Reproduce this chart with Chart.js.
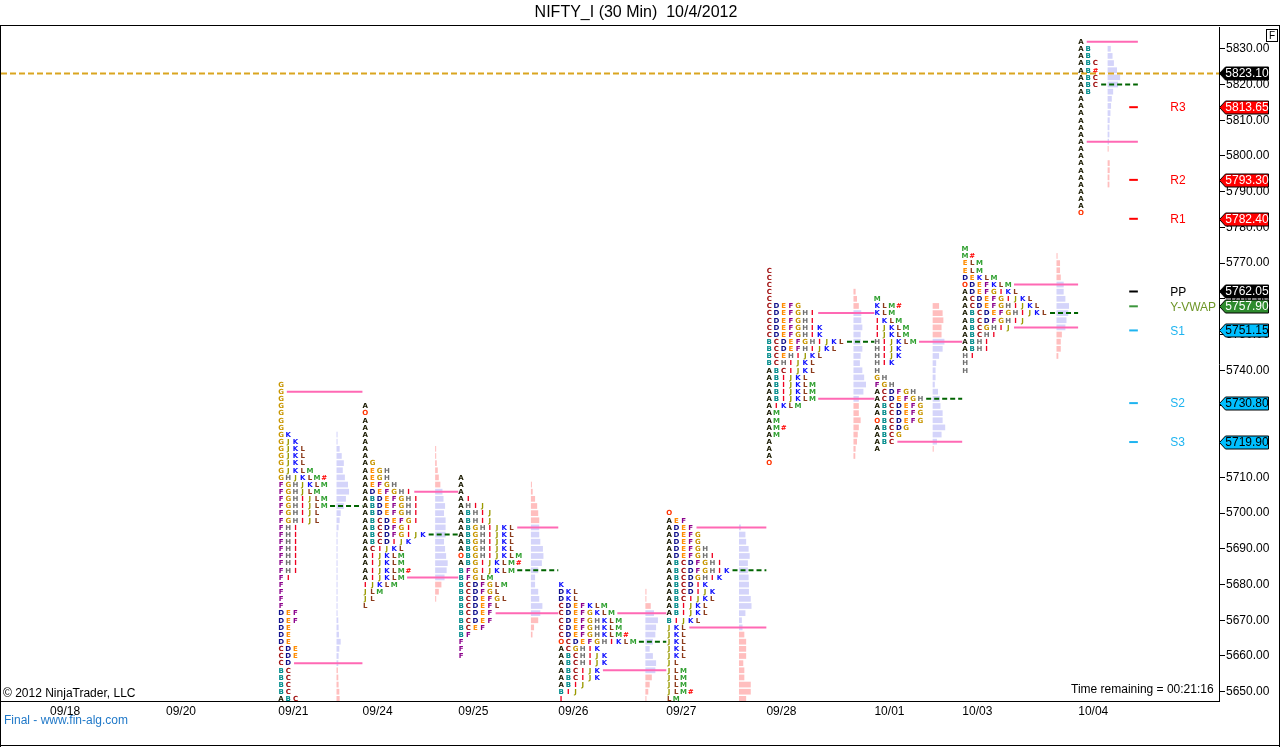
<!DOCTYPE html>
<html><head><meta charset="utf-8">
<script src="https://cdn.jsdelivr.net/npm/chart.js@4.4.0/dist/chart.umd.min.js"></script>
<style>html,body{margin:0;padding:0;background:#fff;}canvas{display:block;}</style>
</head><body>
<canvas id="c" width="1280" height="747"></canvas>
<script>
// ---------- DATA ----------
const rowStep = 2;
const sessionDates = ['09/18','09/20','09/21','09/24','09/25','09/26','09/27','09/28','10/01','10/03','10/04'];
const sessionSlot  = [7.2, 23.3, 38.9, 50.6, 63.9, 77.8, 92.8, 106.7, 121.7, 133.9, 150.0];
const sessionTop   = [null, null, 5736, 5730, 5710, 5680, 5700, 5768, 5760, 5774, 5832];
const vaHigh   = [null, null, 5734, 5706, 5696, 5672, 5696, 5756, 5748, 5764, 5832];
const vaLow    = [null, null, 5658, 5682, 5672, 5656, 5668, 5732, 5720, 5752, 5804];
const pocPrice = [null, null, 5702, 5694, 5684, 5664, 5684, 5748, 5732, 5756, 5820];

const tpo0921 = ["G","G","G","G","G","G","G","GK","GJK","GJKL","GJKL","GJKL","GJKLM","GHJKLM#","FGHJKLM","FGHJLM","FGHIJLM","FGHIJLM","FGHIJL","FGHIJL","FHI","FHI","FHI","FHI","FHI","FHI","FHI","FI","F","F","F","F","DEF","DEF","DE","DE","DE","CDE","CDE","CD","BC","BC","BC","BC","ABC"];
const tpo0924 = ["A","O","A","A","A","A","A","A","AG","AEGH","AEGH","AEFGH","ADEFGHI","ABDEFGHI","ABDEFGHI","ABDEFGHI","ABCDEFGI","ABCDFGI","ABCDFGIJK","ABCDIJK","ACIJKL","AIJKLM","AIJKLM","AIJKLM#","AIJKLM","IJKLM","JLM","JL","L"];
const tpo0925 = ["A","A","A","AI","AHIJ","ABHIJ","ABHIJ","ABGHIJKL","ABGHIJKL","ABGHIJKL","ABGHIJKL","OBGHIJKLM","ABGIJKLM#","BFGIJKLM","BFGLM","BCDFGLM","BCDFGL","BCDEFGL","BCDEFL","BCDEF","BCDEF","BCEF","BF","F","F","F"];
const tpo0926 = ["K","DKL","DKL","CDEFKLM","CDEFGKLM","CDEFGHKLM","CDEFGHKLM","CDEFGHKLM#","OCDEFGHIKLM","ACGHIK","ABCHIJK","ABCHIJK","ABCIJK","ABCIJK","ABIJ","BIJ","I"];
const tpo0927 = ["O","AEF","ADEF","ADEFG","ADEFG","ADEFGH","ADEFGHI","ABCDFGHI","ABCDFGHIK","ABCDGHIK","ABCDIK","ABCDIJK","ABCIJKL","ABIJKL","ABIJKL","BIJKL","JKL","JKL","JKL","JKL","JKL","JL","JLM","JLM","JLM","JLM#","LM"];
const tpo0928 = ["C","C","C","C","C","CDEFG","CDEFGHI","CDEFGHI","CDEFGHIK","CDEFGHIK","BCDEFGHIJKL","BCDEFHIJKL","BCEHIJKL","BCHIJKL","ABCIJKL","ABIJKL","ABIJKLM","ABIJKLM","ABIJKLM","AIKLM","AM","AM","AM#","AM","A","A","A","O"];
const tpo1001 = ["M","KLM#","KLM","IKLM","IJKLM","IJKLM","HIJKLM","HIJK","HIJK","HIK","H","GH","FGH","ACDFGH","ACDEFGH","ABCDEFG","ABCDEFG","OBCDEFG","ABCDG","ABCG","ABC","A"];
const tpo1003 = ["M","M#","ELM","ELM","DEKLM","ODEFKLM","ADEFGIKL","ACDEFGIJKL","ACDEFGHIJKL","ABCDEFGHIJKL","ABCDFGHIJ","ABCGHIJ","ABCHI","ABHI","ABHI","HI","H","H"];
const tpo1004 = ["A","AB","AB","ABC","AB#","ABC","ABC","AB","A","A","A","A","A","A","A","A","A","A","A","A","A","A","A","A","O"];

const hist0921 = [0,0,0,0,0,0,0,1,1,3,5,7,6,8,11,12,9,7,4,3,2,1,1,1,1,1,1,1,1,1,1,1,1,1.7,2,2.3,4,2.7,2,1.7,1.3,1.7,2,2.7,3];
const hist0924 = [0,0,0,0,0,0,0.7,1,1.5,2.5,3.5,5,7,8,9.5,8.5,10,10,10,8.5,9.5,10.5,12,11,9,6,3.5,1,0];
const hist0925 = [0,0.7,1.7,4,6,7,8,8,8,9,11.5,12,10.5,7,4,4,7,8,11,9,7,3,1.5,0,0,0];
const hist0926 = [0,1,0.5,5,8,11.7,10,9.3,7,4,7,10,9.3,6,4,2.7,1];
const hist0927 = [0,0,1.7,6,6.7,9,10,8.3,8.3,9,9.3,9.3,11,11.7,6,2.7,3.3,5,6.7,6.7,6.7,4,5,5,11,11,6.7];
const hist0928 = [0,0,0,2,3.3,5,7.3,7.3,8.3,6.7,6.7,8.3,6.7,6,8.3,10,11.7,9.3,5,5,5,6.7,5,4,3.3,2,1.7,0];
const hist1001 = [0,6,9.3,10,8.3,8.3,11,9.3,6,3.3,2.7,2.7,2,5,6.7,7.3,9.3,9.3,11.7,8.3,4,1];
const hist1003 = [0,1,3.3,3.3,4,6.7,6.7,8.3,11.7,11,9.3,8.3,5,4,4,1.7,0,0];
const hist1004 = [0,3,4.7,6,9,12,10,5.3,4,3.3,2.7,2,1.7,1.7,1.3,1,0,2,2,1.7,1.7,0,0,0,0];

const tpoLists  = [[], [], tpo0921, tpo0924, tpo0925, tpo0926, tpo0927, tpo0928, tpo1001, tpo1003, tpo1004];
const histLists = [[], [], hist0921, hist0924, hist0925, hist0926, hist0927, hist0928, hist1001, hist1003, hist1004];

const lastPrice = 5823.10;
const pivotNames  = ['R3','R2','R1','PP','Y-VWAP','S1','S2','S3'];
const pivotValues = [5813.65, 5793.30, 5782.40, 5762.05, 5757.90, 5751.15, 5730.80, 5719.90];
const yTickStep = 10;

// ---------- STYLE ----------
const letterColor = {A:'#1a1a00',O:'#ff3300',B:'#008b8b',C:'#a01010',D:'#10108b',E:'#ff8c00',F:'#8b008b',G:'#c89600',H:'#707070',I:'#ee0020',J:'#9a9a00',K:'#1010ff',L:'#8b3a1a',M:'#30a030','#':'#ff0000'};
const pivotDash  = {R3:'#ff0000',R2:'#ff0000',R1:'#ff0000',PP:'#000000','Y-VWAP':'#3c963c',S1:'#1eb4f0',S2:'#1eb4f0',S3:'#1eb4f0'};
const pivotText  = {R3:'#ff0000',R2:'#ff0000',R1:'#ff0000',PP:'#000000','Y-VWAP':'#6e9628',S1:'#1eb4f0',S2:'#1eb4f0',S3:'#1eb4f0'};
const pivotFlag  = {R3:'#ff0000',R2:'#ff0000',R1:'#ff0000',PP:'#000000','Y-VWAP':'#2e8b2e',S1:'#00bfff',S2:'#00bfff',S3:'#00bfff'};
const flagTextC  = {R3:'#fff',R2:'#fff',R1:'#fff',PP:'#fff','Y-VWAP':'#fff',S1:'#000',S2:'#000',S3:'#000'};
const FONT = '"Liberation Sans", Arial, sans-serif';
const X_MAX = 169.17;

// ---------- DATASETS (lines) ----------
const datasets = [];
sessionDates.forEach((d, i) => {
  const rows = tpoLists[i];
  if (!rows.length) return;
  const end = i + 1 < sessionSlot.length ? sessionSlot[i + 1] - 0.4 : sessionSlot[i] + 7.9;
  const lenAt = p => rows[Math.round((sessionTop[i] - p) / rowStep)].length;
  [vaHigh[i], vaLow[i]].forEach(p => datasets.push({
    data: [{x: sessionSlot[i] + lenAt(p) - 0.2, y: p}, {x: end, y: p}],
    borderColor: '#ff69b4', borderWidth: 2
  }));
  datasets.push({
    data: [{x: sessionSlot[i] + lenAt(pocPrice[i]) - 0.2, y: pocPrice[i]}, {x: end, y: pocPrice[i]}],
    borderColor: '#006400', borderWidth: 2, borderDash: [5, 3]
  });
});
pivotNames.forEach((n, k) => datasets.push({
  data: [{x: 156.7, y: pivotValues[k]}, {x: 157.9, y: pivotValues[k]}],
  borderColor: pivotDash[n], borderWidth: 2
}));
datasets.push({
  data: [{x: 0, y: lastPrice}, {x: X_MAX, y: lastPrice}],
  borderColor: '#daa520', borderWidth: 2, borderDash: [6, 3]
});

// ---------- PLUGIN ----------
const profilePlugin = {
  id: 'profile',
  beforeDatasetsDraw(chart) {
    const {ctx, chartArea: a, scales: {x, y}} = chart;
    ctx.save();
    ctx.beginPath(); ctx.rect(a.left, a.top, a.right - a.left, a.bottom - a.top); ctx.clip();
    const colPx = x.getPixelForValue(1) - x.getPixelForValue(0);
    const rowPx = Math.abs(y.getPixelForValue(5700) - y.getPixelForValue(5700 + rowStep));
    const barH = rowPx * 0.8;
    ctx.font = 'bold 7px "DejaVu Sans", sans-serif';
    ctx.textAlign = 'center'; ctx.textBaseline = 'middle';
    tpoLists.forEach((rows, i) => {
      if (!rows.length) return;
      const maxLen = Math.max(...rows.map(r => r.length));
      const hist = histLists[i];
      const hmax = Math.max(...hist);
      const hx = x.getPixelForValue(sessionSlot[i] + maxLen - 1 + 1.7);
      const maxW = 1.74 * colPx;
      rows.forEach((r, k) => {
        const p = sessionTop[i] - k * rowStep;
        const py = y.getPixelForValue(p);
        const v = hist[k] || 0;
        if (v > 0) {
          ctx.fillStyle = (p <= vaHigh[i] && p >= vaLow[i]) ? '#d4d4fa' : '#ffbebe';
          ctx.fillRect(hx, py - barH / 2, Math.max(1, v / hmax * maxW), barH);
        }
        for (let c = 0; c < r.length; c++) {
          ctx.fillStyle = letterColor[r[c]] || '#000';
          ctx.fillText(r[c], x.getPixelForValue(sessionSlot[i] + c), py + 0.5);
        }
      });
    });
    ctx.restore();
  },
  afterDraw(chart) {
    const {ctx, chartArea: a, scales: {x, y}} = chart;
    ctx.save();
    // pivot labels
    ctx.font = '12px ' + FONT; ctx.textAlign = 'left'; ctx.textBaseline = 'middle';
    pivotNames.forEach((n, k) => {
      ctx.fillStyle = pivotText[n];
      ctx.fillText(n, x.getPixelForValue(162.4), y.getPixelForValue(pivotValues[k]) + 1);
    });
    // flags
    const flag = (val, fill, tc) => {
      const py = Math.round(y.getPixelForValue(val)) + 0.5;
      const x0 = a.right + 0.5, x1 = x0 + 6, x2 = x0 + 49;
      ctx.beginPath();
      ctx.moveTo(x0, py); ctx.lineTo(x1, py - 6.5); ctx.lineTo(x2, py - 6.5);
      ctx.lineTo(x2, py + 6.5); ctx.lineTo(x1, py + 6.5); ctx.closePath();
      ctx.fillStyle = fill; ctx.fill();
      ctx.strokeStyle = '#000'; ctx.lineWidth = 1; ctx.stroke();
      ctx.fillStyle = tc; ctx.textAlign = 'center'; ctx.textBaseline = 'middle';
      ctx.font = '12px ' + FONT;
      ctx.fillText(val.toFixed(2), (x1 + x2) / 2, py + 0.5);
    };
    flag(lastPrice, '#000000', '#fff');
    pivotNames.forEach((n, k) => flag(pivotValues[k], pivotFlag[n], flagTextC[n]));
    // title
    ctx.fillStyle = '#000'; ctx.font = '16px ' + FONT; ctx.textAlign = 'center'; ctx.textBaseline = 'middle';
    ctx.fillText('NIFTY_I (30 Min)  10/4/2012', 636, 13);
    // texts
    ctx.font = '12px ' + FONT; ctx.textAlign = 'left';
    ctx.fillText('\u00a9 2012 NinjaTrader, LLC', 3, 694);
    ctx.fillText('Time remaining = 00:21:16', 1071, 690);
    ctx.fillStyle = '#1f78c8';
    ctx.fillText('Final - www.fin-alg.com', 4, 721);
    // frame
    ctx.strokeStyle = '#000'; ctx.lineWidth = 1;
    ctx.beginPath();
    ctx.moveTo(0, 25.5); ctx.lineTo(1280, 25.5);
    ctx.moveTo(0.5, 25); ctx.lineTo(0.5, 747);
    ctx.moveTo(1279.5, 25); ctx.lineTo(1279.5, 747);
    ctx.moveTo(0, 745.5); ctx.lineTo(1280, 745.5);
    ctx.moveTo(0, a.bottom + 0.5); ctx.lineTo(a.right + 1, a.bottom + 0.5);
    ctx.stroke();
    // F box
    ctx.fillStyle = '#fff'; ctx.fillRect(1266.5, 29.5, 11, 12);
    ctx.strokeRect(1266.5, 29.5, 11, 12);
    ctx.fillStyle = '#000'; ctx.font = '10px ' + FONT; ctx.textAlign = 'center';
    ctx.fillText('F', 1272, 36);
    ctx.restore();
  }
};

// ---------- CHART ----------
new Chart(document.getElementById('c'), {
  type: 'line',
  data: {datasets: datasets.map(d => Object.assign({pointRadius: 0, fill: false, tension: 0}, d))},
  options: {
    responsive: false, animation: false, devicePixelRatio: 1,
    layout: {padding: {top: 27, left: 1, right: 0, bottom: 26}},
    plugins: {legend: {display: false}, title: {display: false}, tooltip: {enabled: false}},
    scales: {
      x: {
        type: 'linear', min: 0, max: X_MAX, offset: false,
        afterBuildTicks: s => { s.ticks = sessionSlot.map(v => ({value: v + 1.7})); },
        afterFit: s => { s.height = 20; },
        ticks: {autoSkip: false, maxRotation: 0, padding: 3, color: '#000', font: {family: FONT, size: 12},
                callback: (v, i) => sessionDates[i]},
        grid: {display: false, drawTicks: false},
        border: {display: true, color: '#000', width: 1}
      },
      y: {
        type: 'linear', position: 'right', min: 5647.4, max: 5836.1,
        afterFit: s => { s.width = 61; },
        ticks: {stepSize: yTickStep, includeBounds: false, padding: 1, color: '#000', font: {family: FONT, size: 12},
                callback: v => Number(v).toFixed(2)},
        grid: {display: true, drawOnChartArea: false, drawTicks: true, tickLength: 6, color: '#000'},
        border: {display: true, color: '#000', width: 1}
      }
    }
  },
  plugins: [profilePlugin]
});
</script>
</body></html>
